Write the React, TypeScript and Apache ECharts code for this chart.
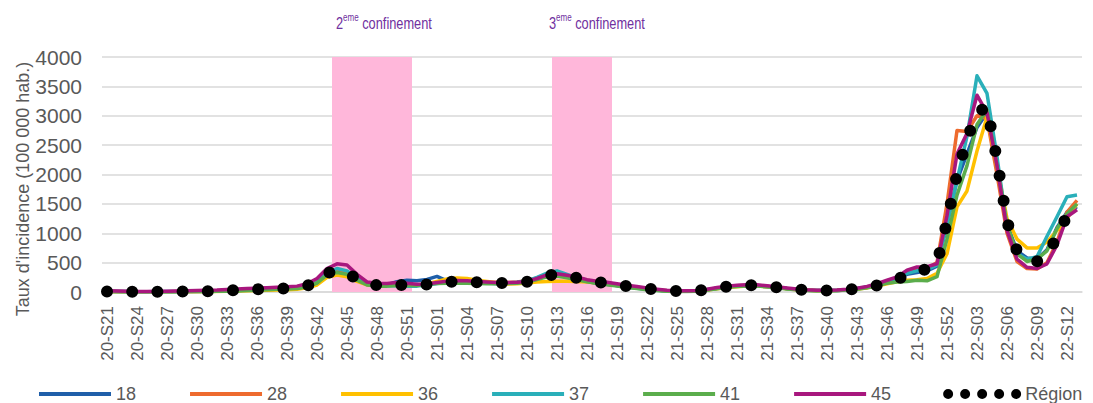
import React, { useEffect, useRef } from "react";
import * as echarts from "echarts";

const categories = [
  "20-S21","20-S22","20-S23","20-S24","20-S25","20-S26","20-S27","20-S28","20-S29","20-S30",
  "20-S31","20-S32","20-S33","20-S34","20-S35","20-S36","20-S37","20-S38","20-S39","20-S40",
  "20-S41","20-S42","20-S43","20-S44","20-S45","20-S46","20-S47","20-S48","20-S49","20-S50",
  "20-S51","20-S52","20-S53",
  "21-S01","21-S02","21-S03","21-S04","21-S05","21-S06","21-S07","21-S08","21-S09","21-S10",
  "21-S11","21-S12","21-S13","21-S14","21-S15","21-S16","21-S17","21-S18","21-S19","21-S20",
  "21-S21","21-S22","21-S23","21-S24","21-S25","21-S26","21-S27","21-S28","21-S29","21-S30",
  "21-S31","21-S32","21-S33","21-S34","21-S35","21-S36","21-S37","21-S38","21-S39","21-S40",
  "21-S41","21-S42","21-S43","21-S44","21-S45","21-S46","21-S47","21-S48","21-S49","21-S50",
  "21-S51","21-S52",
  "22-S01","22-S02","22-S03","22-S04","22-S05","22-S06","22-S07","22-S08","22-S09","22-S10",
  "22-S11","22-S12","22-S13",
];

const dep18 = [
  12, 9, 7, 6, 5, 6, 7, 8, 9, 11,
  13, 16, 22, 30, 38, 45, 50, 56, 62, 72,
  100, 165, 320, 380, 340, 220, 140, 120, 125, 175,
  200, 190, 215, 265, 190, 180, 175, 165, 155, 145,
  150, 155, 170, 230, 290, 300, 260, 220, 180, 150,
  130, 110, 90, 70, 50, 32, 18, 12, 12, 18,
  38, 62, 88, 100, 110, 108, 92, 78, 58, 42,
  30, 24, 24, 27, 36, 55, 80, 120, 175, 230,
  300, 330, 360, 440, 1150, 1900, 2350, 2800, 3050, 2150,
  1150, 700, 580, 560, 720, 1100, 1360, 1450,
];

const dep28 = [
  10, 8, 6, 5, 5, 5, 6, 7, 8, 9,
  11, 14, 20, 28, 35, 42, 48, 55, 62, 72,
  100, 170, 330, 390, 340, 230, 150, 120, 120, 130,
  130, 120, 140, 160, 175, 185, 180, 170, 160, 155,
  160, 170, 190, 240, 300, 310, 280, 250, 200, 175,
  150, 125, 100, 78, 58, 38, 20, 14, 14, 20,
  40, 65, 90, 105, 115, 110, 95, 80, 60, 45,
  32, 25, 25, 28, 38, 55, 78, 115, 170, 230,
  330, 380, 400, 500, 1500, 2750, 2730, 3000, 2950, 2000,
  1000, 520, 400, 390, 500, 850, 1360, 1560,
];

const dep36 = [
  5, 4, 3, 3, 3, 3, 4, 4, 5, 6,
  7, 8, 12, 15, 20, 25, 28, 32, 38, 45,
  70, 120, 250, 290, 260, 180, 120, 110, 110, 120,
  120, 110, 140, 180, 220, 240, 230, 200, 180, 160,
  135, 140, 155, 170, 180, 185, 185, 180, 170, 155,
  140, 120, 95, 75, 55, 35, 18, 12, 12, 18,
  35, 55, 75, 90, 100, 100, 90, 75, 55, 40,
  28, 22, 22, 25, 35, 50, 70, 100, 140, 175,
  200, 210, 230, 320, 650, 1450, 1720, 2400, 2980, 2150,
  1250, 900, 750, 750, 850, 1050, 1250, 1500,
];

const dep37 = [
  8, 7, 5, 4, 4, 5, 5, 6, 7, 8,
  10, 12, 18, 25, 33, 40, 46, 52, 60, 68,
  95, 160, 330, 400, 360, 230, 140, 110, 100, 110,
  100, 100, 120, 145, 165, 175, 170, 160, 150, 145,
  150, 165, 190, 250, 320, 360, 300, 240, 185, 150,
  130, 110, 85, 65, 48, 30, 18, 12, 12, 18,
  38, 62, 88, 105, 112, 108, 92, 78, 58, 42,
  30, 24, 24, 27, 38, 58, 85, 125, 180, 230,
  320, 360, 380, 460, 1150, 1900, 2650, 3680, 3380, 2300,
  1100, 650, 560, 600, 950, 1280, 1620, 1650,
];

const dep41 = [
  8, 6, 5, 4, 4, 5, 5, 6, 7, 8,
  9, 11, 14, 18, 24, 32, 40, 45, 52, 60,
  85, 150, 290, 330, 300, 200, 120, 100, 100, 110,
  110, 110, 130, 145, 150, 155, 150, 145, 140, 140,
  145, 150, 165, 210, 260, 270, 240, 210, 175, 150,
  125, 100, 78, 58, 40, 25, 12, 8, 8, 14,
  32, 55, 80, 95, 105, 100, 88, 72, 52, 38,
  26, 20, 20, 24, 32, 48, 70, 100, 150, 170,
  180, 200, 190, 260, 900, 1650, 2150, 2850, 3100, 2150,
  1150, 650, 520, 560, 700, 1080, 1330, 1500,
];

const dep45 = [
  20, 15, 12, 10, 10, 12, 14, 16, 20, 24,
  28, 33, 42, 50, 58, 66, 74, 82, 90, 100,
  140, 230, 400, 480, 460, 300, 170, 150, 145, 160,
  150, 130, 135, 160, 185, 195, 190, 180, 170, 160,
  160, 165, 180, 230, 290, 310, 285, 255, 210, 185,
  165, 140, 115, 92, 70, 48, 28, 20, 20, 26,
  48, 75, 100, 115, 125, 122, 106, 90, 70, 52,
  38, 30, 30, 34, 45, 65, 95, 140, 200, 255,
  370, 425, 430, 480, 1300, 2350, 2700, 3350, 3050, 2150,
  1050, 560, 420, 400, 480, 800, 1280, 1400,
];

const region = [
  10, 8, 6, 5, 5, 6, 6, 7, 8, 10,
  12, 15, 25, 33, 40, 48, 54, 58, 62, 75,
  105, 170, 320, 370, 330, 220, 140, 115, 115, 120,
  120, 115, 130, 150, 170, 180, 175, 165, 155, 150,
  155, 160, 175, 220, 280, 300, 270, 240, 195, 170,
  150, 125, 100, 80, 60, 40, 22, 15, 15, 20,
  40, 65, 90, 105, 115, 110, 95, 80, 60, 45,
  32, 25, 25, 28, 38, 55, 75, 110, 170, 215,
  290, 340, 390, 480, 1200, 2000, 2600, 3050, 3150, 2250,
  1200, 700, 560, 520, 610, 950, 1300, 1470,
];

const lockdown2 = ["20-S44", "20-S51"];
const lockdown3 = ["21-S13", "21-S18"];
const yMin = 0;
const yMax = 4000;
const yInterval = 500;

const seriesNames = ["18", "28", "36", "37", "41", "45"];
const seriesColors = ["#1F5FA9", "#EE6B2E", "#FFC000", "#2AAFB9", "#5BAD4C", "#A8177E"];
const seriesValues = [dep18, dep28, dep36, dep37, dep41, dep45];

const FONT = "'Liberation Sans', Arial, sans-serif";

function inRange(cat: string, range: string[]) {
  const i = categories.indexOf(cat);
  return i >= categories.indexOf(range[0]) && i <= categories.indexOf(range[1]);
}

function annotation(num: string, left: number) {
  return {
    type: "text",
    x: left,
    y: 13,
    scaleX: 0.8,
    style: {
      text: `{n|${num}}{s|eme}{n| confinement}`,
      fill: "#7030A0",
      rich: {
        n: { fontSize: 16, fontFamily: FONT, fill: "#7030A0", lineHeight: 18, verticalAlign: "bottom" },
        s: { fontSize: 10, fontFamily: FONT, fill: "#7030A0", lineHeight: 10, verticalAlign: "top" },
      },
    },
  };
}

export default function App() {
  const ref = useRef<HTMLDivElement>(null);
  useEffect(() => {
    if (!ref.current) return;
    const chart = echarts.init(ref.current, null, { renderer: "svg" });
    const bandData = categories.map((c) =>
      inRange(c, lockdown2) || inRange(c, lockdown3) ? yMax : null
    );
    const lineSeries: any[] = seriesNames.map((n, k) => ({
      name: n,
      type: "line",
      data: seriesValues[k],
      symbol: "none",
      lineStyle: { color: seriesColors[k], width: 3.5, join: "round" },
      itemStyle: { color: seriesColors[k] },
      z: 3 + k,
    }));
    lineSeries.push({
      name: "Région",
      type: "line",
      data: region,
      symbol: "none",
      lineStyle: { color: "#000", width: 12, type: [0, 25.2], cap: "round", join: "round" },
      itemStyle: { color: "#000" },
      z: 20,
    });
    chart.setOption({
      animation: false,
      textStyle: { fontFamily: FONT },
      grid: { left: 102, right: 11, top: 57, bottom: 111, containLabel: false },
      xAxis: {
        type: "category",
        data: categories,
        boundaryGap: true,
        axisTick: { show: false },
        axisLine: { lineStyle: { color: "#D9D9D9", width: 1.5 } },
        axisLabel: {
          interval: 2,
          rotate: 90,
          fontSize: 17,
          color: "#595959",
          margin: 14,
          fontFamily: FONT,
        },
      },
      yAxis: {
        type: "value",
        min: yMin,
        max: yMax,
        interval: yInterval,
        axisLine: { show: false },
        axisTick: { show: false },
        splitLine: { lineStyle: { color: "#D9D9D9", width: 1.5 } },
        axisLabel: {
          fontSize: 21,
          color: "#595959",
          margin: 20,
          fontFamily: FONT,
          formatter: (v: number) => String(v),
        },
      },
      legend: {
        data: [
          ...seriesNames,
          { name: "Région", lineStyle: { type: [0, 17], width: 10, cap: "round" } },
        ],
        left: 37,
        top: 385,
        width: 1056,
        padding: 0,
        itemWidth: 72,
        itemHeight: 18,
        itemGap: 52,
        lineStyle: { width: 4 },
        itemStyle: { opacity: 0 },
        textStyle: { fontSize: 18, color: "#595959", fontFamily: FONT },
        selectedMode: false,
      },
      graphic: [
        {
          type: "text",
          rotation: Math.PI / 2,
          x: 23,
          y: 189,
          style: {
            text: "Taux d'incidence (100 000 hab.)",
            fontSize: 18,
            fontFamily: FONT,
            fill: "#595959",
            align: "center",
            verticalAlign: "middle",
          },
        },
        annotation("2", 336),
        annotation("3", 549),
      ],
      series: [
        {
          name: "confinement",
          type: "bar",
          data: bandData,
          barWidth: "100%",
          barCategoryGap: "0%",
          itemStyle: { color: "#FFB7DA" },
          silent: true,
          z: 1,
        },
        ...lineSeries,
      ],
    });
    return () => chart.dispose();
  }, []);
  return (
    <div
      ref={ref}
      style={{ position: "absolute", left: 0, top: 0, width: 1093, height: 403 }}
    />
  );
}
